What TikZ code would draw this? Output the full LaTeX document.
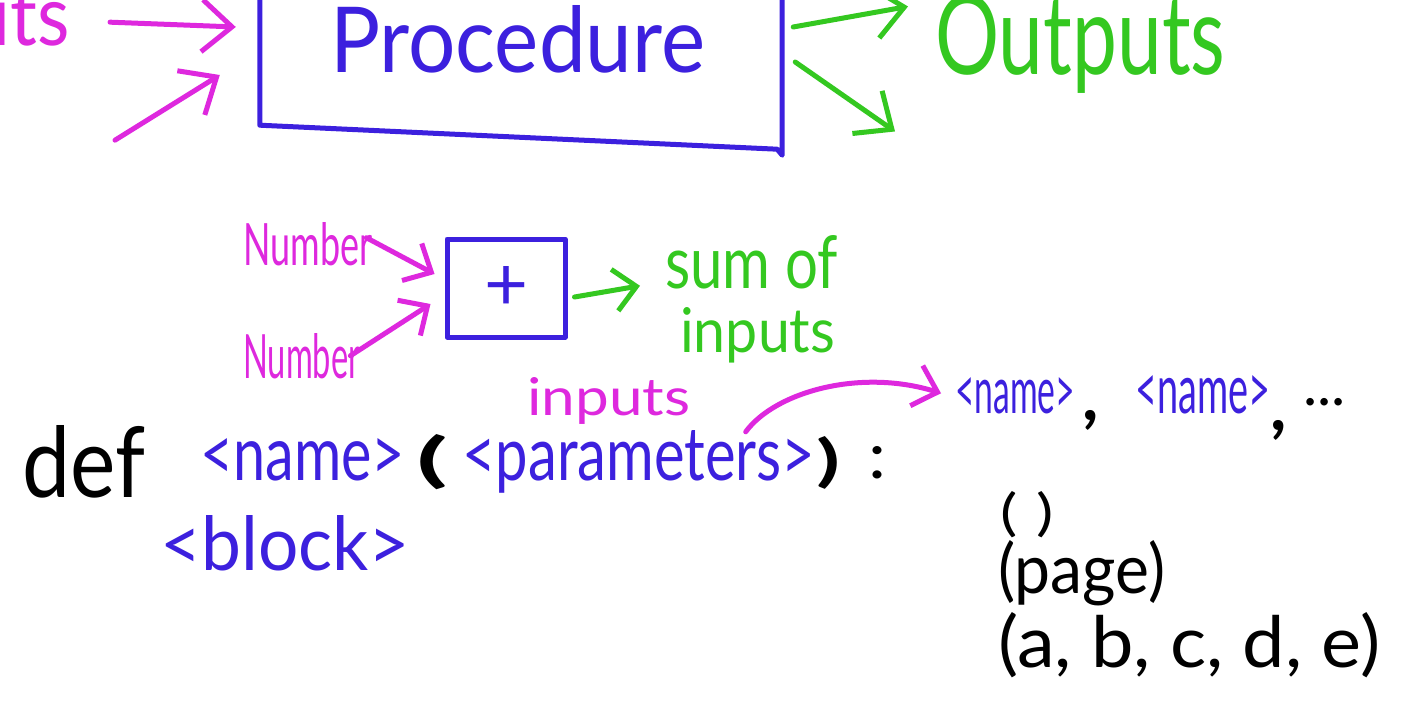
\documentclass[tikz,border=0pt]{standalone}
\usepackage{graphicx}
\usepackage{fontspec}
\setmainfont{Lato}
\usetikzlibrary{arrows.meta,calc}
\definecolor{mg}{RGB}{222,40,222}
\definecolor{bl}{RGB}{60,32,222}
\definecolor{gr}{RGB}{52,200,32}
% handwritten word fitted to a given width and height above the baseline
\newcommand{\hw}[3]{\resizebox{#1pt}{#2pt}{\fontsize{40}{40}\selectfont #3}}
\newcommand{\sized}[2]{{\fontsize{#1}{#1}\selectfont #2}}
\begin{document}
\begin{tikzpicture}[x=1pt,y=-1pt,
  txt/.style={anchor=base west,inner sep=0pt},
  pen/.style={line width=5pt,line cap=round,line join=round},
  bigarrow/.style={pen,-{Straight Barb[length=30pt,width=52pt]}},
  smallarrow/.style={pen,-{Straight Barb[length=22pt,width=42pt]}}]
\useasboundingbox (0,0) rectangle (1415,707);
\fill[white] (0,0) rectangle (1415,707);

% --- procedure with inputs and outputs ---
\node[inner sep=0pt,minimum width=522pt,minimum height=136pt] (proc) at (521,57) {};
\draw[pen,bl] (proc.north west) -- (proc.south west) -- ($(proc.south east)+(-5,24)$)
  -- ($(proc.south east)+(0,30)$) -- (proc.north east);
\node[txt,text=bl] (proclabel) at (330,72) {\hw{375}{67}{Procedure}};
\node[txt,text=mg,anchor=base east] (inputs) at (70,45) {\hw{205}{60}{Inputs}};
\node[txt,text=gr] (outputs) at (935,74) {\hw{290}{80}{Outputs}};

\draw[bigarrow,mg] ($(inputs.east)+(40,0)$) -- ($(proc.west)+(-24,-30)$);
\draw[bigarrow,mg] ($(inputs.east)+(45,118)$) -- ($(proc.west)+(-40,18)$);
\draw[bigarrow,gr] ($(proc.east)+(11,-30)$) -- ($(outputs.west)+(-27,-37)$);
\draw[bigarrow,gr] ($(proc.east)+(13,5)$) -- ($(outputs.west)+(-40,88)$);

% --- the + procedure ---
\node[draw=bl,pen,text=bl,minimum width=118pt,minimum height=98pt] (plus) at (506,288)
  {\hw{44}{44}{+}};
\node[txt,text=mg] (num1) at (243,265) {\hw{129}{43}{Number}};
\node[txt,text=mg] (num2) at (243,378) {\hw{117}{45}{Number}};
\draw[smallarrow,mg] ($(num1.east)+(-6,-6)$) -- ($(plus.west)+(-10,-14)$);
\draw[smallarrow,mg] ($(num2.east)+(-10,0)$) -- ($(plus.west)+(-14,16)$);

\node[txt,text=gr] (sum) at (665,288) {\hw{173}{53}{sum of}};
\node[txt,text=gr] (suminp) at (680,352) {\hw{155}{45}{inputs}};
\draw[smallarrow,gr] ($(plus.east)+(7,9)$) -- ($(sum.west)+(-25,24)$);

% --- definition syntax ---
\node[txt] (def) at (22,497) {\hw{123}{72}{def}};
\node[txt,text=bl] (name) at (200,480) {\hw{205}{42}{<name>}};
\node[txt] (lpar) at (416,480) {\hw{32}{46}{\bfseries (}};
\node[txt,text=bl] (params) at (462,480) {\hw{353}{50}{<parameters>}};
\node[txt] (rpar) at (816,480) {\hw{24}{44}{\bfseries )}};
\node[txt] (colon) at (868,478) {\hw{18}{32}{:}};
\node[txt,text=mg] (inp) at (527,415) {\hw{163}{38}{inputs}};
\node[txt,text=bl] (block) at (160,570) {\hw{250}{55}{<block>}};

% --- parameter list ---
\node[txt,text=bl] (nm1) at (955,413) {\hw{120}{36}{<name>}};
\node[txt] (c1) at (1082,420) {\sized{70}{\bfseries ,}};
\node[txt,text=bl] (nm2) at (1135,413) {\hw{135}{38}{<name>}};
\node[txt] (c2) at (1270,430) {\sized{70}{\bfseries ,}};
\node[txt] (dots) at (1303,405) {\sized{60}{...}};
\draw[smallarrow,mg] ($(params.north)+(107,2)$) .. controls (775,392) and (860,368) ..
  ($(nm1.west)+(-14,-2)$);

\node[txt] (t0) at (1000,530) {\hw{54}{39}{(\hspace{0.3em})}};
\node[txt] (t1) at (998,593) {\hw{167}{53}{(page)}};
\node[txt] (t2) at (998,667) {\hw{382}{55}{(a, b, c, d, e)}};
\end{tikzpicture}
\end{document}
